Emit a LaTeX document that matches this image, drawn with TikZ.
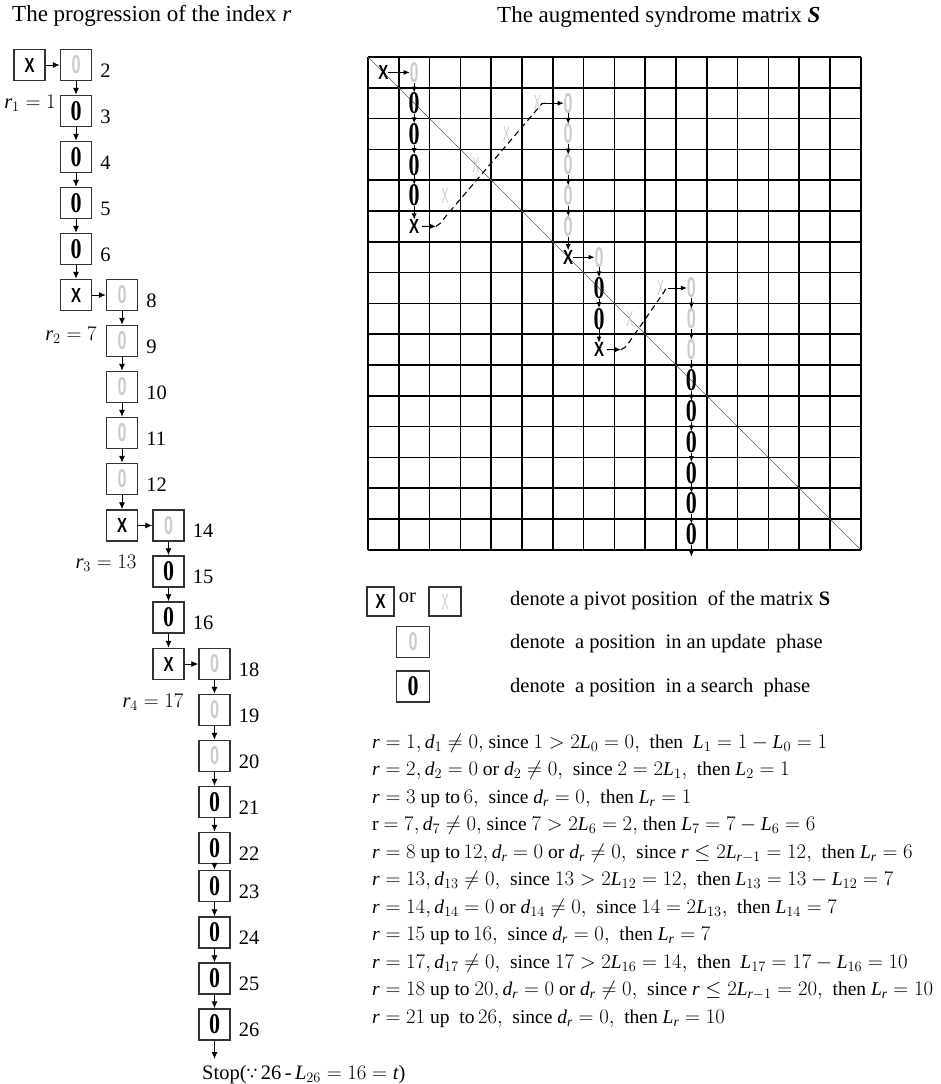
\documentclass[tikz,border=0pt]{standalone}
\usepackage{graphicx}
\usepackage{fontspec}
\setmainfont{Liberation Serif}
\newfontfamily\lsans{Liberation Sans}
\newfontfamily\dvs{DejaVu Sans}
\usetikzlibrary{arrows.meta}
\definecolor{lg}{gray}{0.8}
\definecolor{dg}{gray}{0.2}
\newcommand\vR{\mathit{r}}
\newcommand\vD{\mathit{d}}
\newcommand\vL{\mathit{L}}
\newcommand\vT{\mathit{t}}
% glyphs in the grid
\newcommand\gridXb{\resizebox{10pt}{14pt}{\lsans\bfseries X}}
\newcommand\gridXg{\textcolor{lg}{\resizebox{7pt}{15pt}{\lsans X}}}
\newcommand\gridOb{\resizebox{11pt}{21pt}{\bfseries 0}}
\newcommand\gridOg{\textcolor{lg}{\resizebox{9pt}{20pt}{\lsans\bfseries 0}}}
% glyphs in boxes
\newcommand\boxX{\resizebox{10pt}{14pt}{\lsans\bfseries X}}
\newcommand\boxXg{\textcolor{lg}{\resizebox{7pt}{15pt}{\lsans X}}}
\newcommand\boxOb{\resizebox{11pt}{19pt}{\bfseries 0}}
\newcommand\boxOg{\textcolor{lg}{\resizebox{9pt}{18pt}{\lsans\bfseries 0}}}
\newcommand\tsz{\fontsize{20.5}{24}\selectfont}
\begin{document}
\begin{tikzpicture}[x=1pt,y=-1pt,
  box/.style={draw=dg, line width=1.5pt, minimum width=31pt, minimum height=31pt, inner sep=0pt},
  cell/.style={inner sep=0pt, outer sep=0pt},
  arr/.style={-{Latex[length=7pt,width=6pt]}, line width=0.9pt},
  garr/.style={-{Latex[length=6pt,width=5pt]}, line width=0.9pt},
  dash line/.style={line width=1.1pt, dash pattern=on 6pt off 4pt},
  gridline/.style={line width=1.5pt, black},
  diag/.style={line width=0.7pt, black!65},
  num/.style={anchor=base west, font=\tsz, inner sep=0pt},
  txt/.style={anchor=base west, font=\tsz, inner sep=0pt},
  eq/.style={anchor=base west, font=\fontsize{19.5}{24}\selectfont, inner sep=0pt}]
\useasboundingbox (0,0) rectangle (941,1084);

% titles
\node[anchor=base west, inner sep=0pt, font=\fontsize{23}{27}\selectfont] (t1) at (12,21) {The progression of the index \textit{r}};
\node[anchor=base west, inner sep=0pt, font=\fontsize{23}{27}\selectfont] (t2) at (497,22) {The augmented syndrome matrix {\bfseries\itshape S}};

% ---------------- left column ----------------
\node[box] (c1) at (29.5,65) {\boxX};
\node[box] (c2) at (76,65) {\boxOg};
\node[box] (c3) at (76,111) {\boxOb};
\node[box] (c4) at (76,157) {\boxOb};
\node[box] (c5) at (76,203) {\boxOb};
\node[box] (c6) at (76,249) {\boxOb};
\node[box] (c7) at (76,295) {\boxX};
\node[box] (c8) at (122,295) {\boxOg};
\node[box] (c9) at (122,341) {\boxOg};
\node[box] (c10) at (122,387) {\boxOg};
\node[box] (c11) at (122,433) {\boxOg};
\node[box] (c12) at (122,479) {\boxOg};
\node[box] (c13) at (122,525.5) {\boxX};
\node[box] (c14) at (168.5,525.5) {\boxOg};
\node[box] (c15) at (168.5,571.5) {\boxOb};
\node[box] (c16) at (168.5,617.5) {\boxOb};
\node[box] (c17) at (168.5,664) {\boxX};
\node[box] (c18) at (214.5,664) {\boxOg};
\node[box] (c19) at (214.5,710) {\boxOg};
\node[box] (c20) at (214.5,756) {\boxOg};
\node[box] (c21) at (214.5,802) {\boxOb};
\node[box] (c22) at (214.5,848) {\boxOb};
\node[box] (c23) at (214.5,886) {\boxOb};
\node[box] (c24) at (214.5,932.5) {\boxOb};
\node[box] (c25) at (214.5,978.5) {\boxOb};
\node[box] (c26) at (214.5,1024.5) {\boxOb};
\coordinate (cend) at (214.5,1059);

\foreach \k in {2,3,4,5,6,8,9,10,11,12,14,15,16,18,19,20,21,22,23,24,25,26}
  \node[num] (n\k) at ([xshift=8pt,yshift=-12pt]c\k.east) {\k};

\foreach \a/\b in {1/2,2/3,3/4,4/5,5/6,6/7,7/8,8/9,9/10,10/11,11/12,12/13,13/14,14/15,15/16,16/17,17/18,18/19,19/20,20/21,21/22,22/23,23/24,24/25,25/26}
  \draw[arr] (c\a) -- (c\b);
\draw[arr] (c26) -- (cend);

\node[font=\tsz, inner sep=0pt] (r1) at (30,103) {$\vR_1=1$};
\node[font=\tsz, inner sep=0pt] (r2) at (71,335) {$\vR_2=7$};
\node[font=\tsz, inner sep=0pt] (r3) at (106,563) {$\vR_3=13$};
\node[font=\tsz, inner sep=0pt] (r4) at (153,702) {$\vR_4=17$};

\node[anchor=base west, font=\tsz, inner sep=0pt] (stop) at (202,1079) {Stop({\dvs\fontsize{17}{20}\selectfont ∵}\,26\,-\,$\vL_{26}=16=\vT$)};

% ---------------- grid ----------------
\begin{scope}[shift={(368,57)}, x=30.8pt, y=-30.8pt]
  \foreach \i in {0,...,16} {
    \draw[gridline] (\i,0) -- (\i,16);
    \draw[gridline] (0,\i) -- (16,\i);
  }
  \draw[diag] (0,0) -- (16,16);

  \node[cell] (g-1-1) at (0.5,0.5) {\gridXb};
  \node[cell] (g-1-2) at (1.5,0.5) {\gridOg};
  \foreach \i in {2,...,5} \node[cell] (g-\i-2) at (1.5,\i-0.5) {\gridOb};
  \node[cell] (g-6-2) at (1.5,5.5) {\gridXb};
  \node[cell] (g-5-3) at (2.5,4.5) {\gridXg};
  \node[cell] (g-4-4) at (3.5,3.5) {\gridXg};
  \node[cell] (g-3-5) at (4.5,2.5) {\gridXg};
  \node[cell] (g-2-6) at (5.5,1.5) {\gridXg};
  \foreach \i in {2,...,6} \node[cell] (g-\i-7) at (6.5,\i-0.5) {\gridOg};
  \node[cell] (g-7-7) at (6.5,6.5) {\gridXb};
  \node[cell] (g-7-8) at (7.5,6.5) {\gridOg};
  \node[cell] (g-8-8) at (7.5,7.5) {\gridOb};
  \node[cell] (g-9-8) at (7.5,8.5) {\gridOb};
  \node[cell] (g-10-8) at (7.5,9.5) {\gridXb};
  \node[cell] (g-9-9) at (8.5,8.5) {\gridXg};
  \node[cell] (g-8-10) at (9.5,7.5) {\gridXg};
  \foreach \i in {8,9,10} \node[cell] (g-\i-11) at (10.5,\i-0.5) {\gridOg};
  \foreach \i in {11,...,16} \node[cell] (g-\i-11) at (10.5,\i-0.5) {\gridOb};
  \coordinate (gend) at (10.5,16.22);
\end{scope}

% grid arrows
\draw[garr] (g-1-1) -- (g-1-2);
\foreach \a/\b in {1/2,2/3,3/4,4/5,5/6} \draw[garr] (g-\a-2) -- (g-\b-2);
\foreach \a/\b in {2/3,3/4,4/5,5/6,6/7} \draw[garr] (g-\a-7) -- (g-\b-7);
\draw[garr] (g-7-7) -- (g-7-8);
\foreach \a/\b in {7/8,8/9,9/10} \draw[garr] (g-\a-8) -- (g-\b-8);
\foreach \a/\b in {8/9,9/10,10/11,11/12,12/13,13/14,14/15,15/16} \draw[garr] (g-\a-11) -- (g-\b-11);
\draw[garr] (g-16-11) -- (gend);

% dashed jumps
\coordinate (d1a) at (436,226.4);
\coordinate (d1b) at (545,103.2);
\draw[garr, shorten <=3pt] (g-6-2) -- (d1a);
\draw[dash line] (d1a) .. controls (440,224) .. (446,216) -- (540,106) .. controls (542,103.2) .. (d1b);
\draw[garr] (d1b) -- (g-2-7);

\coordinate (d2a) at (621,349.6);
\coordinate (d2b) at (668,288);
\draw[garr, shorten <=3pt] (g-10-8) -- (d2a);
\draw[dash line] (d2a) .. controls (625,348) .. (630,341) -- (664,292) .. controls (666,288) .. (d2b);
\draw[garr] (d2b) -- (g-8-11);

% ---------------- legend ----------------
\node[box, minimum width=27pt, minimum height=29pt] (lx) at (380.5,601.5) {\boxX};
\node[anchor=base, font=\tsz, inner sep=0pt] (lor) at (407.5,602) {or};
\node[box, minimum width=32pt, minimum height=29pt] (lgx) at (445,601.5) {\boxXg};
\node[box, minimum width=33pt, minimum height=31pt] (lg0) at (413,642) {\boxOg};
\node[box, minimum width=33pt, minimum height=31pt] (lb0) at (413,686.5) {\boxOb};
\node[txt] (l1) at (510,605) {denote a pivot position\ \ of the matrix \textbf{S}};
\node[txt] (l2) at (510,648) {denote\ \ a position\ \ in an update\ \ phase};
\node[txt] (l3) at (510,692) {denote\ \ a position\ \ in a search\ \ phase};

% ---------------- equations ----------------
\node[eq] (e1) at (372,748) {$\vR=1, \vD_1\neq 0,$ since $1>2\vL_0=0,$\ \ then\ \ $\vL_1=1-\vL_0=1$};
\node[eq] (e2) at (372,775.5) {$\vR=2, \vD_2=0$ or $\vD_2\neq 0,$\ \ since $2=2\vL_1,$\ \ then $\vL_2=1$};
\node[eq] (e3) at (372,803) {$\vR=3$ up to$\,6,$\ \ since $\vD_{\vR}=0,$\ \ then $\vL_{\vR}=1$};
\node[eq] (e4) at (372,830.5) {r $=7, \vD_7\neq 0,$ since $7>2\vL_6=2,$ then $\vL_7=7-\vL_6=6$};
\node[eq] (e5) at (372,858) {$\vR=8$ up to$\,12, \vD_{\vR}=0$ or $\vD_{\vR}\neq 0,$\ \ since $\vR\le 2\vL_{\vR-1}=12,$\ \ then $\vL_{\vR}=6$};
\node[eq] (e6) at (372,885.5) {$\vR=13, \vD_{13}\neq 0,$\ \ since $13>2\vL_{12}=12,$\ \ then $\vL_{13}=13-\vL_{12}=7$};
\node[eq] (e7) at (372,913) {$\vR=14, \vD_{14}=0$ or $\vD_{14}\neq 0,$\ \ since $14=2\vL_{13},$\ \ then $\vL_{14}=7$};
\node[eq] (e8) at (372,940.5) {$\vR=15$ up to$\,16,$\ \ since $\vD_{\vR}=0,$\ \ then $\vL_{\vR}=7$};
\node[eq] (e9) at (372,968) {$\vR=17, \vD_{17}\neq 0,$\ \ since $17>2\vL_{16}=14,$\ \ then\ \ $\vL_{17}=17-\vL_{16}=10$};
\node[eq] (e10) at (372,995.5) {$\vR=18$ up to $20, \vD_{\vR}=0$ or $\vD_{\vR}\neq 0,$\ \ since $\vR\le 2\vL_{\vR-1}=20,$\ \ then $\vL_{\vR}=10$};
\node[eq] (e11) at (372,1023) {$\vR=21$ up\ \ to$\,26,$\ \ since $\vD_{\vR}=0,$\ \ then $\vL_{\vR}=10$};
\end{tikzpicture}
\end{document}
